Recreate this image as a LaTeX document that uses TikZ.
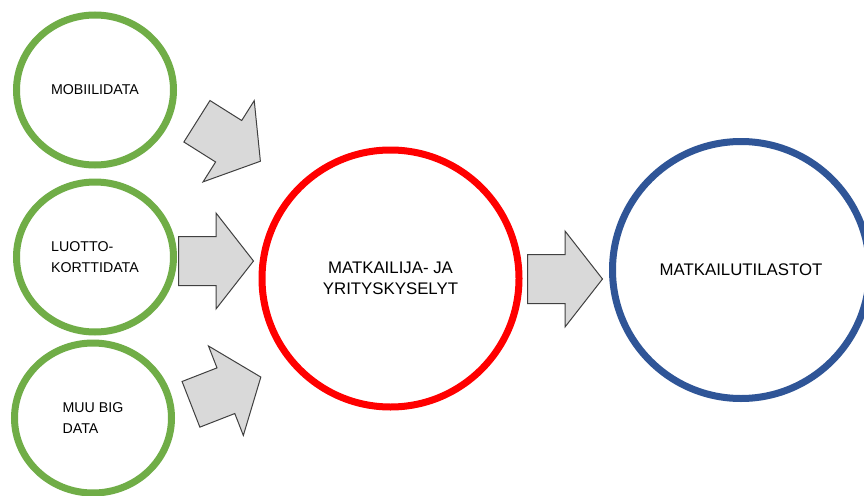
\documentclass[tikz,border=0pt]{standalone}
\usepackage{fontspec}
\setmainfont{Liberation Sans}
\usetikzlibrary{shapes.geometric,shapes.arrows}

\definecolor{srcgreen}{HTML}{70AD47}
\definecolor{hubred}{HTML}{FF0000}
\definecolor{outblue}{HTML}{2F5597}
\definecolor{arrowfill}{HTML}{D9D9D9}
\definecolor{arrowline}{HTML}{404040}

% invisible strut that sets the shaft thickness of the block arrows
\newcommand{\shaftstrut}{\rule[-24pt]{0pt}{48pt}}

\tikzset{
  source/.style={ellipse, draw=srcgreen, line width=7pt, fill=white,
    minimum width=157pt, minimum height=150pt, inner sep=0pt,
    font=\fontsize{14.2}{21}\selectfont, align=left},
  bigring/.style={circle, line width=7pt, fill=white,
    minimum size=257pt, inner sep=0pt,
    font=\fontsize{16.8}{21}\selectfont, align=center},
  flow/.style={single arrow, draw=arrowline, fill=arrowfill, line width=1pt,
    minimum height=75pt, minimum width=95pt, inner sep=0pt,
    single arrow head extend=23.5pt, single arrow tip angle=104,
    anchor=tail}
}

\begin{document}
\begin{tikzpicture}[x=1pt, y=-1pt]
  \clip (0,0) rectangle (864,495);
  \fill[white] (0,0) rectangle (864,495);

  % data sources
  \node[source] (mobile) at (95,90)  {MOBIILIDATA};
  \node[source] (credit) at (95,257) {LUOTTO-\\KORTTIDATA};
  \node[source] (other)  at (93,418) {MUU BIG\\DATA};

  % surveys and statistics
  \node[bigring, draw=hubred]  (survey) at (390.5,278.5) {MATKAILIJA- JA\\YRITYSKYSELYT};
  \node[bigring, draw=outblue] (stats)  at (741,270)     {MATKAILUTILASTOT};

  % block arrows between the stages
  \node[flow, rotate=-32.2] (a1) at (196.5,121)   {\shaftstrut};
  \node[flow]               (a2) at (178,261)     {\shaftstrut};
  \node[flow, rotate=21.3]  (a3) at (190.5,404.5) {\shaftstrut};
  \node[flow]               (a4) at (527,279)     {\shaftstrut};
\end{tikzpicture}
\end{document}
